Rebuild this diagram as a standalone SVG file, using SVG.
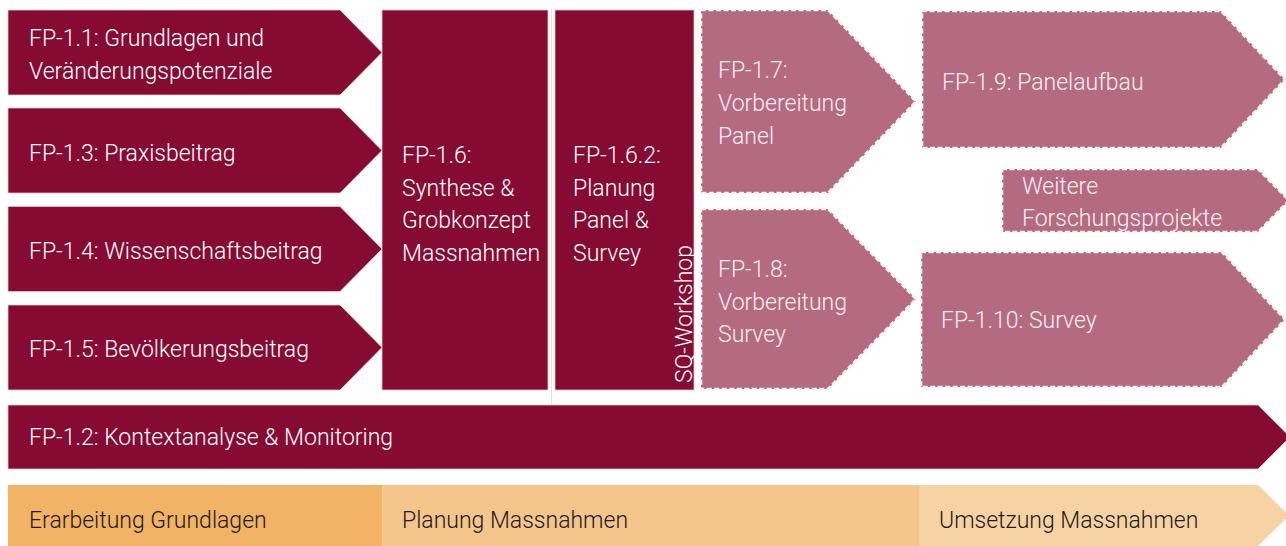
<svg xmlns="http://www.w3.org/2000/svg" width="1286" height="546" viewBox="0 0 1286 546">
  <style>
    .dark { fill: #850B32; stroke: #e3c7cf; stroke-width: 0.8; }
    .pink { fill: #B46A80; stroke: #fbf3f5; stroke-width: 2.6; stroke-dasharray: 5 2.5; }
    .lbl { font-family: Roboto, "Liberation Sans", sans-serif; font-weight: 300; font-size: 23px; fill: #ffffff; }
    .lbl-pink { fill: #fbeff3; }
    .phase { font-family: Roboto, "Liberation Sans", sans-serif; font-weight: 300; font-size: 23px; fill: #1b1b1b; }
  </style>

  <!-- phase bar along the bottom -->
  <g id="phase-grundlagen">
    <rect x="8" y="485" width="374" height="61" fill="#F2B366"/>
    <text class="phase" x="29" y="528">Erarbeitung Grundlagen</text>
  </g>
  <g id="phase-planung">
    <rect x="382" y="485" width="537" height="61" fill="#F4C68C"/>
    <text class="phase" x="402" y="528">Planung Massnahmen</text>
  </g>
  <g id="phase-umsetzung">
    <polygon points="919,485 1258,485 1289,515.5 1258,546 919,546" fill="#F7D3A4"/>
    <text class="phase" x="939" y="528">Umsetzung Massnahmen</text>
  </g>

  <!-- separator between synthesis and planning blocks -->
  <g id="connectors">
    <line x1="551.5" y1="10" x2="551.5" y2="405" stroke="#e4e4e4" stroke-width="1"/>
  </g>

  <!-- grundlagen arrows -->
  <g id="fp-1-1">
    <polygon class="dark" points="8,10 340,10 382,52.5 340,95 8,95"/>
    <text class="lbl" x="29" y="46">FP-1.1: Grundlagen und</text>
    <text class="lbl" x="29" y="79">Veränderungspotenziale</text>
  </g>
  <g id="fp-1-3">
    <polygon class="dark" points="8,108 340,108 382,150.5 340,193 8,193"/>
    <text class="lbl" x="29" y="161">FP-1.3: Praxisbeitrag</text>
  </g>
  <g id="fp-1-4">
    <polygon class="dark" points="8,206.5 340,206.5 382,249 340,291.5 8,291.5"/>
    <text class="lbl" x="29" y="259">FP-1.4: Wissenschaftsbeitrag</text>
  </g>
  <g id="fp-1-5">
    <polygon class="dark" points="8,305 340,305 382,347.5 340,390 8,390"/>
    <text class="lbl" x="29" y="357">FP-1.5: Bevölkerungsbeitrag</text>
  </g>

  <!-- synthesis and planning -->
  <g id="fp-1-6">
    <rect class="dark" x="382" y="10" width="166" height="380"/>
    <text class="lbl" x="402" y="163">FP-1.6:</text>
    <text class="lbl" x="402" y="196">Synthese &amp;</text>
    <text class="lbl" x="402" y="228">Grobkonzept</text>
    <text class="lbl" x="402" y="261">Massnahmen</text>
  </g>
  <g id="fp-1-6-2">
    <rect class="dark" x="555" y="10" width="139" height="380"/>
    <text class="lbl" x="573" y="163">FP-1.6.2:</text>
    <text class="lbl" x="573" y="196">Planung</text>
    <text class="lbl" x="573" y="228">Panel &amp;</text>
    <text class="lbl" x="573" y="261">Survey</text>
    <text class="lbl" x="0" y="0" font-size="22" transform="translate(692 383) rotate(-90)">SQ-Workshop</text>
  </g>

  <!-- preparation (dashed, tentative) -->
  <g id="fp-1-7">
    <polygon class="pink" points="701,10 828,10 916,101.5 828,193 701,193"/>
    <text class="lbl lbl-pink" x="718" y="78">FP-1.7:</text>
    <text class="lbl lbl-pink" x="718" y="111">Vorbereitung</text>
    <text class="lbl lbl-pink" x="718" y="144">Panel</text>
  </g>
  <g id="fp-1-8">
    <polygon class="pink" points="701,209 828,209 916,299 828,389 701,389"/>
    <text class="lbl lbl-pink" x="718" y="277">FP-1.8:</text>
    <text class="lbl lbl-pink" x="718" y="310">Vorbereitung</text>
    <text class="lbl lbl-pink" x="718" y="342">Survey</text>
  </g>

  <!-- implementation (dashed, tentative) -->
  <g id="fp-1-9">
    <polygon class="pink" points="922,11 1221,11 1285,79.5 1221,148 922,148"/>
    <text class="lbl lbl-pink" x="942" y="90">FP-1.9: Panelaufbau</text>
  </g>
  <g id="weitere">
    <polygon class="pink" points="1002,169 1258,169 1289,200.5 1258,232 1002,232"/>
    <text class="lbl lbl-pink" x="1022" y="194">Weitere</text>
    <text class="lbl lbl-pink" x="1022" y="226">Forschungsprojekte</text>
  </g>
  <g id="fp-1-10">
    <polygon class="pink" points="921,252 1222,252 1285,319.5 1222,387 921,387"/>
    <text class="lbl lbl-pink" x="941" y="328">FP-1.10: Survey</text>
  </g>

  <!-- continuous context analysis -->
  <g id="fp-1-2">
    <polygon class="dark" points="8,405 1258,405 1290,437 1258,469 8,469"/>
    <text class="lbl" x="29" y="445">FP-1.2: Kontextanalyse &amp; Monitoring</text>
  </g>
</svg>
